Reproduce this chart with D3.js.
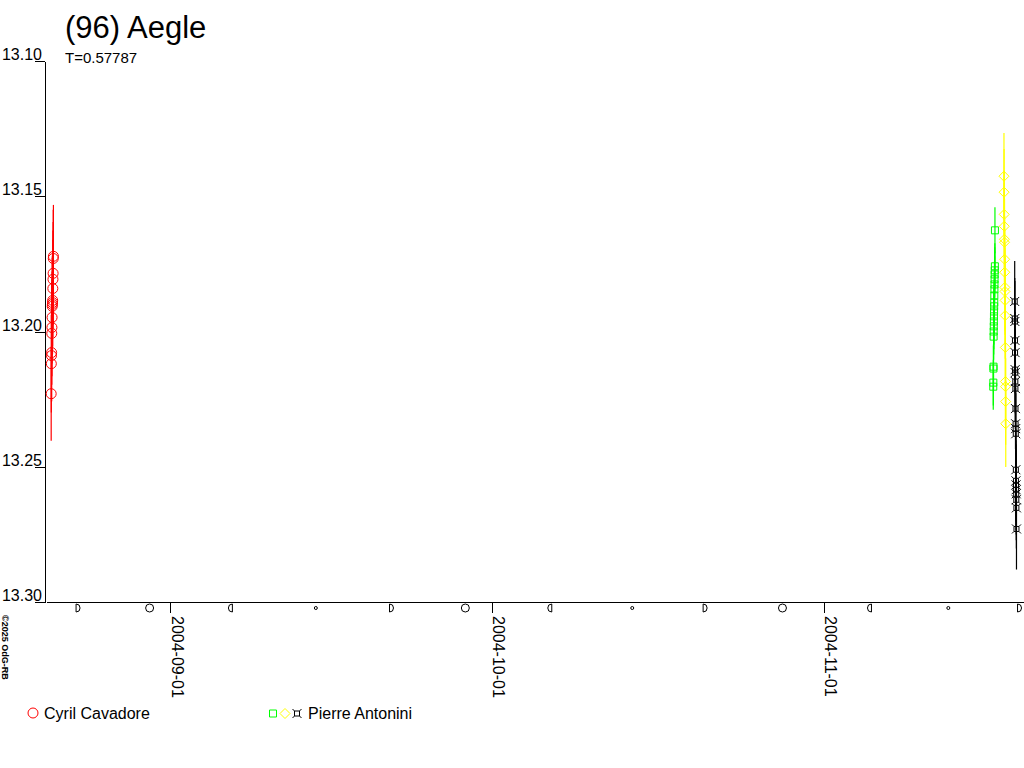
<!DOCTYPE html>
<html><head><meta charset="utf-8">
<script src="https://cdn.jsdelivr.net/npm/d3@7"></script>
<style>
body{margin:0;background:#fff}
svg{display:block}
text{font-family:"Liberation Sans",Arial,sans-serif}
</style>
</head><body>
<svg id="c" width="1024" height="768"></svg>
<script>
// ---------- data ----------
const titleText = "(96) Aegle";
const periodText = "T=0.57787";
const copyrightText = "©2025 OdG-RB";
const yTicks = [13.10, 13.15, 13.20, 13.25, 13.30];
const yDomain = [13.10, 13.30];
const xTickDates = ["2004-09-01", "2004-10-01", "2004-11-01"];
const xDomain = ["2004-08-20T10:24:00Z", "2004-11-19T15:50:00Z"];

// moon phases (UTC)
const moonDates = ["2004-08-23T10:12Z","2004-08-30T02:22Z","2004-09-06T15:10Z","2004-09-14T14:29Z",
  "2004-09-21T15:54Z","2004-09-28T13:09Z","2004-10-06T10:12Z","2004-10-14T02:48Z",
  "2004-10-20T21:59Z","2004-10-28T03:07Z","2004-11-05T05:53Z","2004-11-12T14:27Z","2004-11-19T05:50Z"];
const moonPhases = ["fq","full","lq","new","fq","full","lq","new","fq","full","lq","new","fq"];

// Cyril Cavadore (night of 2004-08-20)
const cavadoreTimes = ["2004-08-20T22:00Z","2004-08-20T22:20Z","2004-08-20T22:40Z","2004-08-20T23:00Z",
  "2004-08-20T23:20Z","2004-08-20T23:40Z","2004-08-21T00:00Z","2004-08-21T00:20Z",
  "2004-08-21T00:40Z","2004-08-21T01:00Z","2004-08-21T01:20Z","2004-08-21T01:40Z",
  "2004-08-21T02:00Z","2004-08-21T02:20Z","2004-08-21T02:40Z","2004-08-21T03:00Z"];
const cavadoreMags = [13.2230,13.2119,13.2089,13.2078,13.2007,13.1985,13.1948,13.1907,
  13.1900,13.1893,13.1885,13.1841,13.1807,13.1785,13.1730,13.1722];
const cavadoreErrs = [0.0174,0.018,0.017,0.018,0.019,0.018,0.017,0.018,
  0.018,0.019,0.017,0.018,0.018,0.019,0.018,0.019];

// Pierre Antonini, night 1 (2004-11-16)
const antonini1Times = ["2004-11-16T19:00Z","2004-11-16T19:12Z","2004-11-16T19:24Z","2004-11-16T19:36Z",
  "2004-11-16T19:48Z","2004-11-16T20:00Z","2004-11-16T20:12Z","2004-11-16T20:24Z","2004-11-16T20:36Z",
  "2004-11-16T20:48Z","2004-11-16T21:00Z","2004-11-16T21:12Z","2004-11-16T21:24Z","2004-11-16T21:36Z",
  "2004-11-16T21:48Z","2004-11-16T22:00Z","2004-11-16T22:12Z","2004-11-16T22:24Z","2004-11-16T22:36Z",
  "2004-11-16T22:48Z"];
const antonini1Mags = [13.2204,13.2189,13.2137,13.2130,13.2019,13.2000,13.1981,13.1963,13.1944,
  13.1926,13.1907,13.1893,13.1867,13.1844,13.1826,13.1807,13.1789,13.1774,13.1759,13.1626];
const antonini1Err = 0.0085;

// Pierre Antonini, night 2 (2004-11-17)
const antonini2Times = ["2004-11-17T19:00Z","2004-11-17T19:15Z","2004-11-17T19:30Z","2004-11-17T19:45Z",
  "2004-11-17T20:00Z","2004-11-17T20:15Z","2004-11-17T20:30Z","2004-11-17T20:45Z","2004-11-17T21:00Z",
  "2004-11-17T21:15Z","2004-11-17T21:30Z","2004-11-17T21:45Z","2004-11-17T22:00Z","2004-11-17T22:15Z",
  "2004-11-17T22:30Z","2004-11-17T22:45Z","2004-11-17T23:00Z"];
const antonini2Mags = [13.1426,13.1485,13.1567,13.1611,13.1659,13.1670,13.1733,13.1781,13.1837,
  13.1852,13.1885,13.1941,13.2059,13.2185,13.2204,13.2259,13.2341];
const antonini2Err = 0.016;

// Pierre Antonini, night 3 (2004-11-18)
const antonini3Times = ["2004-11-18T19:00Z","2004-11-18T19:12Z","2004-11-18T19:24Z","2004-11-18T19:36Z",
  "2004-11-18T19:48Z","2004-11-18T20:00Z","2004-11-18T20:12Z","2004-11-18T20:24Z","2004-11-18T20:36Z",
  "2004-11-18T20:48Z","2004-11-18T21:00Z","2004-11-18T21:12Z","2004-11-18T21:24Z","2004-11-18T21:36Z",
  "2004-11-18T21:48Z","2004-11-18T22:00Z","2004-11-18T22:12Z","2004-11-18T22:24Z","2004-11-18T22:36Z",
  "2004-11-18T22:48Z","2004-11-18T23:00Z"];
const antonini3Mags = [13.1889,13.1952,13.1963,13.2033,13.2078,13.2141,13.2152,13.2185,13.2211,
  13.2285,13.2341,13.2359,13.2378,13.2511,13.2552,13.2567,13.2585,13.2600,13.2622,13.2652,13.2730];
const antonini3Err = 0.015;

const legendLabels = ["Cyril Cavadore", "Pierre Antonini"];

// ---------- build ----------
const series = [
  {times: cavadoreTimes, mags: cavadoreMags, errs: cavadoreErrs, color: "#ff0000", shape: "circle"},
  {times: antonini1Times, mags: antonini1Mags, errs: antonini1Times.map(() => antonini1Err), color: "#00ff00", shape: "square"},
  {times: antonini2Times, mags: antonini2Mags, errs: antonini2Times.map(() => antonini2Err), color: "#ffff00", shape: "diamond"},
  {times: antonini3Times, mags: antonini3Mags, errs: antonini3Times.map(() => antonini3Err), color: "#000000", shape: "star"}
];

const svg = d3.select("#c");
const x = d3.scaleUtc().domain(xDomain.map(d => new Date(d))).range([46, 1024]);
const y = d3.scaleLinear().domain(yDomain).range([61, 602]);

function shapePath(shape) {
  switch (shape) {
    case "circle": return "M5,0A5,5 0 1 1 -5,0A5,5 0 1 1 5,0Z";
    case "square": return "M-3.5,-3.5H3.5V3.5H-3.5Z";
    case "diamond": return "M0,-5L5,0L0,5L-5,0Z";
    case "star": return "M-2.5,-2.5H2.5V2.5H-2.5Z M-4.5,-4.5L-2.5,-2.5 M4.5,-4.5L2.5,-2.5 M4.5,4.5L2.5,2.5 M-4.5,4.5L-2.5,2.5";
  }
}

// axes
const yAxis = d3.axisLeft(y).tickValues(yTicks).tickSize(10).tickSizeOuter(0).tickFormat(d3.format(".2f"));
const gy = svg.append("g").attr("transform", "translate(45,0)").call(yAxis);
gy.attr("font-family", null).attr("font-size", null);
gy.selectAll("text").attr("x", -3).attr("dy", -1.5).attr("fill", "#000").style("font-size", "16px");
gy.selectAll("line,path").attr("stroke", "#000").attr("shape-rendering", "crispEdges");

const xAxis = d3.axisBottom(x).tickValues(xTickDates.map(d => new Date(d + "T00:00:00Z")))
  .tickSize(11).tickSizeOuter(0).tickFormat(d3.utcFormat("%Y-%m-%d"));
const gx = svg.append("g").attr("transform", "translate(0,602)").call(xAxis);
gx.attr("font-family", null).attr("font-size", null);
gx.selectAll("text").attr("transform", "rotate(90)").attr("text-anchor", "start")
  .attr("x", 14).attr("y", -1).attr("dy", 0).attr("fill", "#000").style("font-size", "16px");
gx.selectAll("line,path").attr("stroke", "#000").attr("shape-rendering", "crispEdges");

// moon phases
const moonG = svg.append("g").attr("fill", "none").attr("stroke", "#000").attr("stroke-width", 1);
moonDates.forEach((d, i) => {
  const cx = x(new Date(d)), cy = 608;
  const ph = moonPhases[i];
  const g = moonG.append("g").attr("transform", `translate(${cx},${cy})`);
  if (ph === "full") g.append("circle").attr("r", 4);
  else if (ph === "new") g.append("circle").attr("r", 1.5);
  else if (ph === "fq") g.append("path").attr("d", "M-2,-4L-2,4A4,4 0 0 0 -2,-4");
  else g.append("path").attr("d", "M2,-4L2,4A4,4 0 0 1 2,-4");
});

// error bars + markers
series.forEach(s => {
  const g = svg.append("g");
  s.times.forEach((t, i) => {
    const px = x(new Date(t));
    g.append("line").attr("x1", px).attr("x2", px)
      .attr("y1", y(s.mags[i] - s.errs[i])).attr("y2", y(s.mags[i] + s.errs[i]))
      .attr("stroke", s.color).attr("stroke-width", 1.2);
  });
  s.times.forEach((t, i) => {
    g.append("path").attr("d", shapePath(s.shape))
      .attr("transform", `translate(${x(new Date(t))},${y(s.mags[i])})`)
      .attr("fill", "none").attr("stroke", s.color).attr("stroke-width", 1);
  });
});

// title
svg.append("text").attr("x", 65).attr("y", 38).style("font-size", "31px").text(titleText);
svg.append("text").attr("x", 65).attr("y", 63).style("font-size", "15px").text(periodText);

// copyright
svg.append("text").attr("transform", "translate(1,615) rotate(90)").attr("y", -1)
  .style("font-size", "9px").style("font-weight", "bold").text(copyrightText);

// legend
const lg = svg.append("g");
lg.append("path").attr("d", shapePath("circle")).attr("transform", "translate(33,713)")
  .attr("fill", "none").attr("stroke", "#ff0000");
lg.append("text").attr("x", 44).attr("y", 719).style("font-size", "16px").text(legendLabels[0]);
[["square", "#00ff00", 273], ["diamond", "#ffff00", 285], ["star", "#000000", 297]].forEach(([sh, c, lx]) => {
  lg.append("path").attr("d", shapePath(sh)).attr("transform", `translate(${lx},713.5)`)
    .attr("fill", "none").attr("stroke", c);
});
lg.append("text").attr("x", 308).attr("y", 719).style("font-size", "16px").text(legendLabels[1]);
</script>
</body></html>
